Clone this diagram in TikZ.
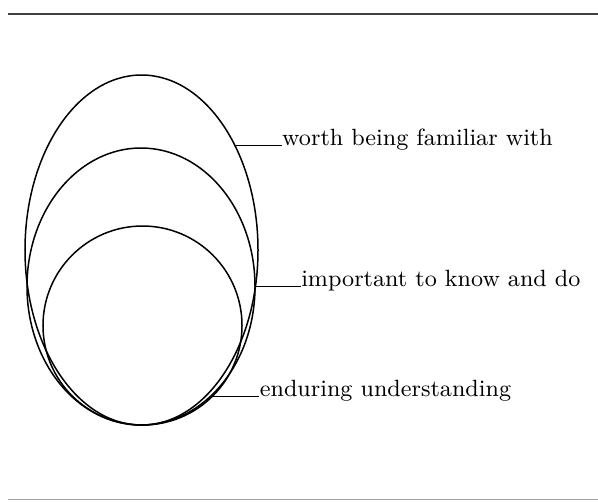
\documentclass[tikz,border=0pt]{standalone}
\usepackage{tikz}
\usetikzlibrary{shapes.geometric}

\tikzset{
    level/.style={draw, ellipse, line width=0.6pt, inner sep=0pt},
    tag/.style={anchor=base west, inner sep=0pt, font=\fontsize{9.4}{11}\selectfont},
    leader/.style={line width=0.45pt},
}

\begin{document}
\begin{tikzpicture}[x=0.4pt, y=-0.4pt]
    \useasboundingbox (0,0) rectangle (598,501);
    % rules above and below
    \draw[line width=1pt, black!75] (8,14) -- (598,14);
    \draw[line width=0.5pt, black!35] (8,499.5) -- (598,499.5);

    % nested ellipses, sitting on one bottom point
    \node[level, minimum width=93.2pt, minimum height=140pt] (outer) at (141.5,250) {};
    \node[level, minimum width=91.2pt, minimum height=110.8pt] (middle) at (141,286.5) {};
    \node[level, circle, minimum size=79.6pt] (inner) at (142.5,325.5) {};

    % labels with their leaders
    \node[tag] (worth) at ([xshift=18.4pt]outer.48) {worth being familiar with};
    \node[tag] (important) at ([xshift=18pt]middle.east) {important to know and do};
    \node[tag] (enduring) at ([xshift=18.4pt]inner.-45) {enduring understanding};

    \draw[leader] (outer.48) -- (worth.base west);
    \draw[leader] (middle.east) -- (important.base west);
    \draw[leader] (inner.-45) -- (enduring.base west);
\end{tikzpicture}
\end{document}
